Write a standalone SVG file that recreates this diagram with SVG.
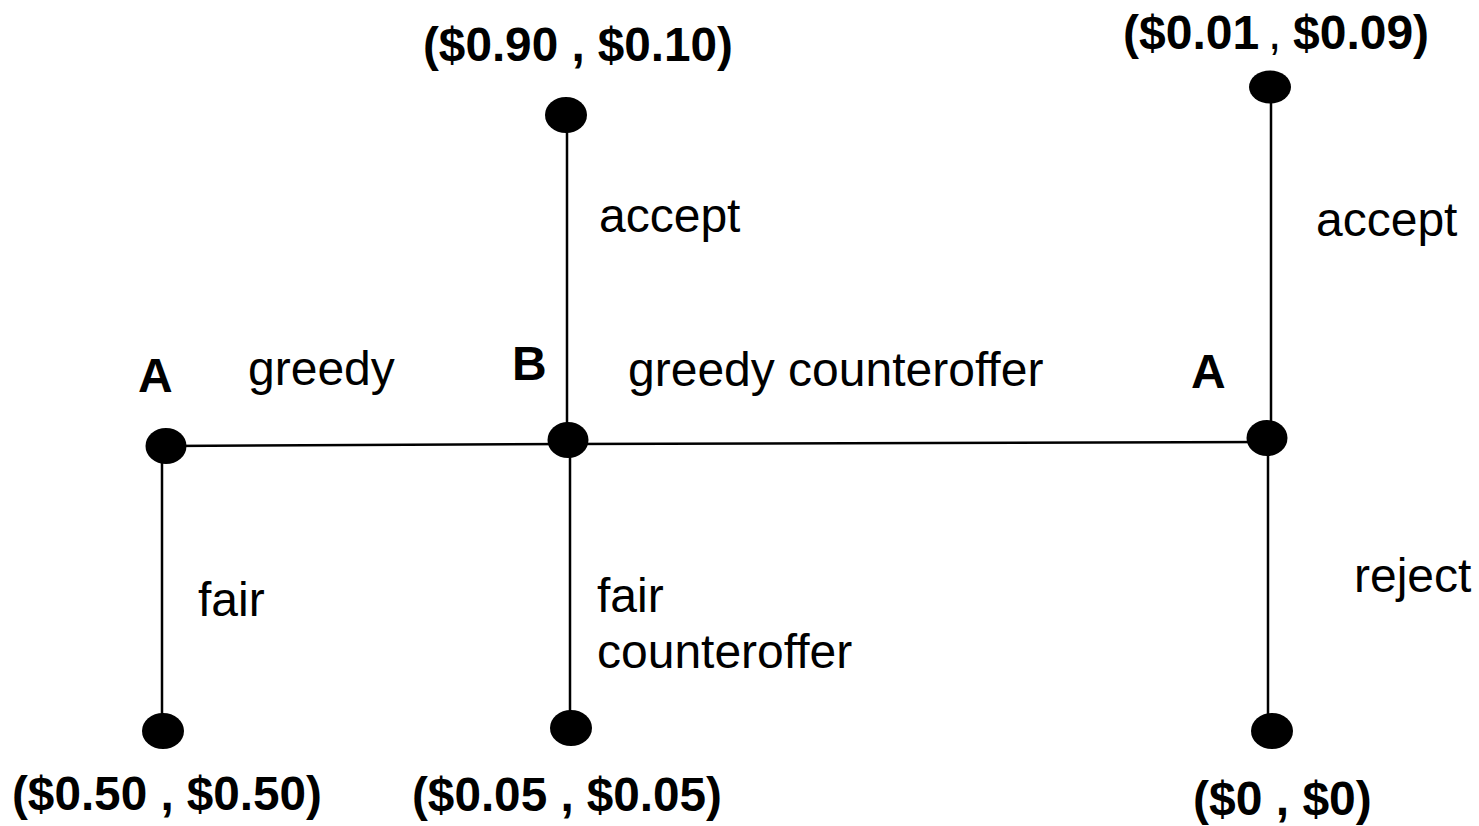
<svg xmlns="http://www.w3.org/2000/svg" width="1479" height="826" viewBox="0 0 1479 826">
<style>
.edge{stroke:#000;stroke-width:2.5;fill:none}
.dot{fill:#000}
.lbl{font-family:"Liberation Sans",Arial,sans-serif;font-size:48px;fill:#000}
.b{font-weight:bold}
.n{font-weight:normal}
</style>
<rect width="1479" height="826" fill="#fff"/>
<g id="connectors">
<line class="edge" x1="166" y1="446" x2="568" y2="444"/>
<line class="edge" x1="568" y1="444" x2="1267" y2="442"/>
<line class="edge" x1="162" y1="446" x2="162" y2="731"/>
<line class="edge" x1="567" y1="115" x2="567" y2="440"/>
<line class="edge" x1="570" y1="440" x2="570" y2="728"/>
<line class="edge" x1="1271" y1="87" x2="1271" y2="438"/>
<line class="edge" x1="1268" y1="438" x2="1268" y2="731"/>
</g>
<g id="edge-labels">
<text class="lbl" x="248" y="385">greedy</text>
<text class="lbl" x="628" y="386">greedy counteroffer</text>
<text class="lbl" x="599" y="232">accept</text>
<text class="lbl" x="1316" y="236">accept</text>
<text class="lbl" x="198" y="616">fair</text>
<text class="lbl" x="597" y="612">fair</text>
<text class="lbl" x="597" y="668">counteroffer</text>
<text class="lbl" x="1354" y="592">reject</text>
</g>
<g id="node-A1">
<ellipse class="dot" cx="166" cy="446" rx="20.5" ry="18"/>
<text class="lbl b" x="138" y="392">A</text>
</g>
<g id="node-B">
<ellipse class="dot" cx="568" cy="440" rx="20.5" ry="18"/>
<text class="lbl b" x="512" y="380">B</text>
</g>
<g id="node-A2">
<ellipse class="dot" cx="1267" cy="438" rx="20.5" ry="18"/>
<text class="lbl b" x="1191" y="388">A</text>
</g>
<g id="leaf-090-010">
<ellipse class="dot" cx="566" cy="115" rx="21" ry="18"/>
<text class="lbl b" x="423" y="61" textLength="310" lengthAdjust="spacingAndGlyphs">($0.90 , $0.10)</text>
</g>
<g id="leaf-001-009">
<ellipse class="dot" cx="1270" cy="87" rx="21" ry="16.5"/>
<text class="lbl b" x="1123" y="49">($0.01</text>
<text class="lbl n" x="1268" y="49">,</text>
<text class="lbl b" x="1293" y="49">$0.09)</text>
</g>
<g id="leaf-050-050">
<ellipse class="dot" cx="163" cy="731" rx="21" ry="18"/>
<text class="lbl b" x="12" y="810" textLength="310" lengthAdjust="spacingAndGlyphs">($0.50 , $0.50)</text>
</g>
<g id="leaf-005-005">
<ellipse class="dot" cx="571" cy="728" rx="21" ry="18"/>
<text class="lbl b" x="412" y="811" textLength="310" lengthAdjust="spacingAndGlyphs">($0.05 , $0.05)</text>
</g>
<g id="leaf-0-0">
<ellipse class="dot" cx="1272" cy="731" rx="21" ry="18"/>
<text class="lbl b" x="1193" y="815">($0 , $0)</text>
</g>
</svg>
